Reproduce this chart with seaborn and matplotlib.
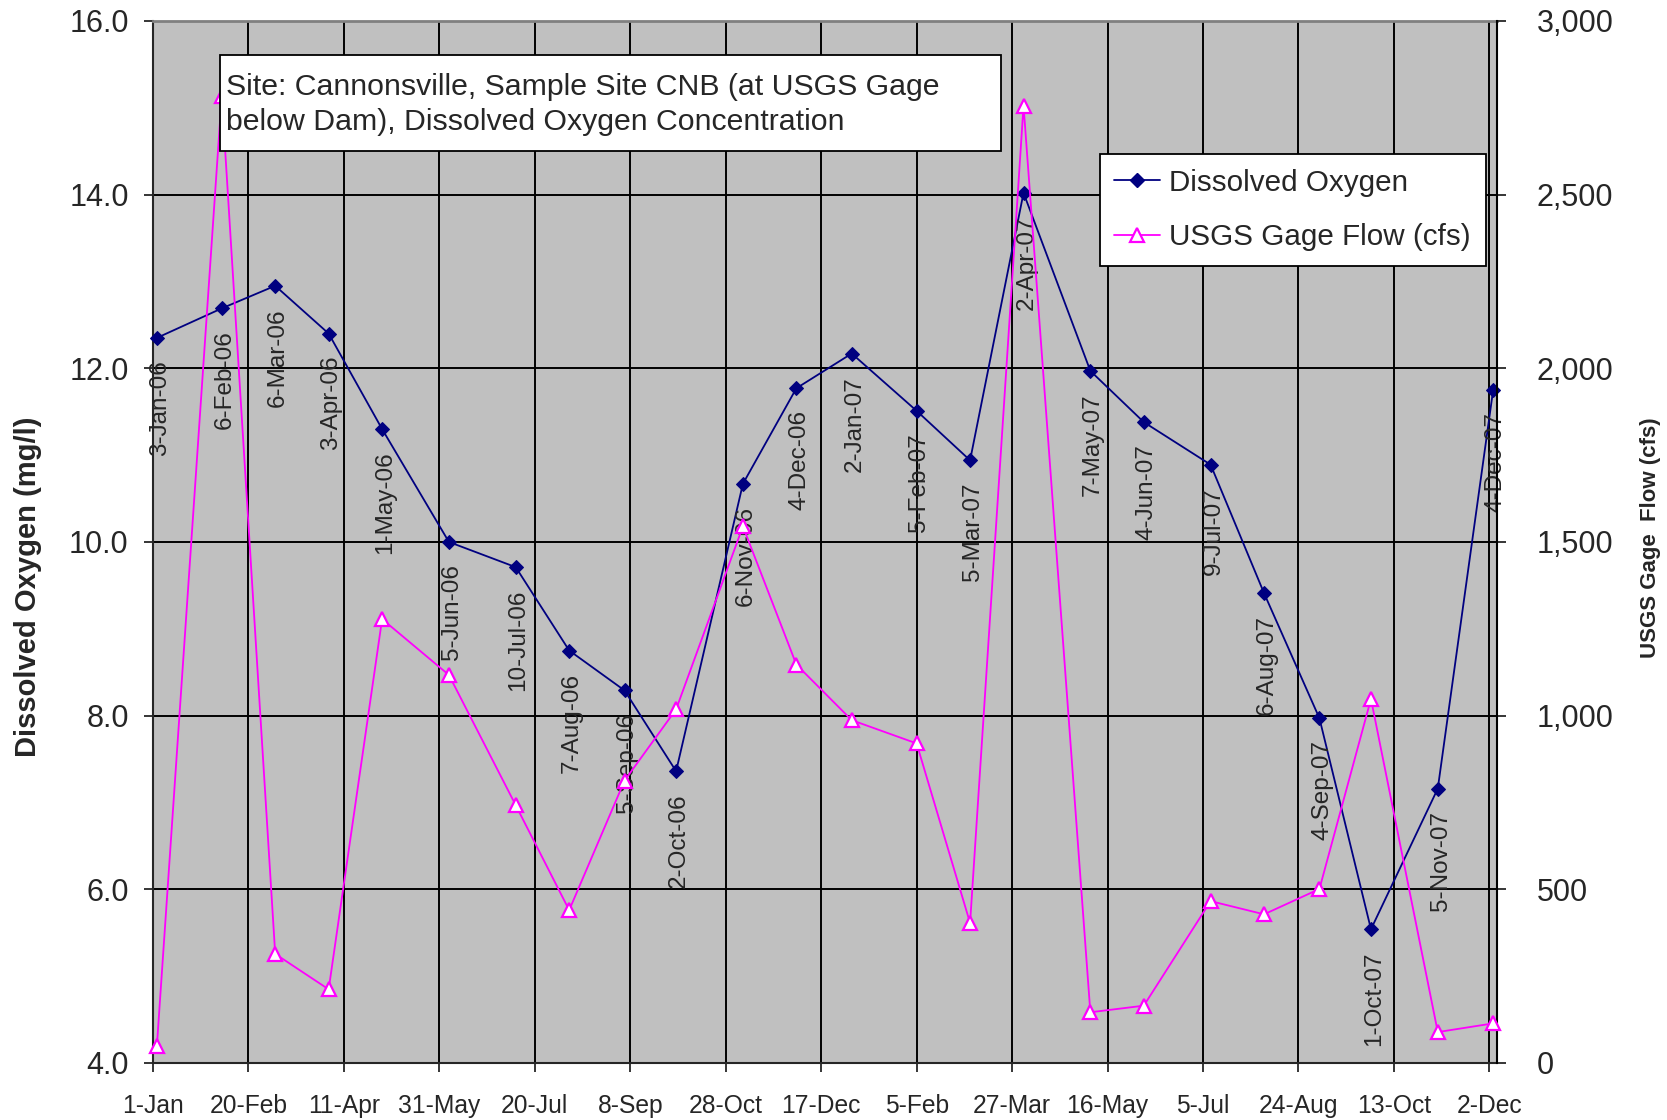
import matplotlib
matplotlib.use("Agg")
import matplotlib.pyplot as plt
import matplotlib.dates as mdates
from matplotlib.lines import Line2D
from matplotlib.patches import Rectangle
import pandas as pd
import seaborn as sns

# Monthly samples at site CNB
sample_dates = [
    "2006-01-03", "2006-02-06", "2006-03-06", "2006-04-03", "2006-05-01",
    "2006-06-05", "2006-07-10", "2006-08-07", "2006-09-05", "2006-10-02",
    "2006-11-06", "2006-12-04", "2007-01-02", "2007-02-05", "2007-03-05",
    "2007-04-02", "2007-05-07", "2007-06-04", "2007-07-09", "2007-08-06",
    "2007-09-04", "2007-10-01", "2007-11-05", "2007-12-04",
]
point_labels = [
    "3-Jan-06", "6-Feb-06", "6-Mar-06", "3-Apr-06", "1-May-06",
    "5-Jun-06", "10-Jul-06", "7-Aug-06", "5-Sep-06", "2-Oct-06",
    "6-Nov-06", "4-Dec-06", "2-Jan-07", "5-Feb-07", "5-Mar-07",
    "2-Apr-07", "7-May-07", "4-Jun-07", "9-Jul-07", "6-Aug-07",
    "4-Sep-07", "1-Oct-07", "5-Nov-07", "4-Dec-07",
]
do_mg_l = [
    12.35, 12.69, 12.95, 12.40, 11.30, 10.00, 9.71, 8.75, 8.29, 7.36,
    10.67, 11.77, 12.17, 11.51, 10.94, 14.02, 11.97, 11.38, 10.89, 9.41,
    7.97, 5.54, 7.16, 11.75,
]
flow_cfs = [
    48, 2785, 314, 212, 1278, 1117, 742, 440, 813, 1018,
    1545, 1147, 987, 920, 403, 2756, 146, 165, 466, 428,
    501, 1048, 89, 114,
]

tick_dates = [
    "2006-01-01", "2006-02-20", "2006-04-11", "2006-05-31", "2006-07-20",
    "2006-09-08", "2006-10-28", "2006-12-17", "2007-02-05", "2007-03-27",
    "2007-05-16", "2007-07-05", "2007-08-24", "2007-10-13", "2007-12-02",
]
tick_labels = [
    "1-Jan", "20-Feb", "11-Apr", "31-May", "20-Jul", "8-Sep", "28-Oct",
    "17-Dec", "5-Feb", "27-Mar", "16-May", "5-Jul", "24-Aug", "13-Oct", "2-Dec",
]
do_ticks = [4, 6, 8, 10, 12, 14, 16]
flow_ticks = [0, 500, 1000, 1500, 2000, 2500, 3000]

DO_COLOR = "#000080"
FLOW_COLOR = "#FF00FF"

sns.set_style("ticks")
plt.rcParams["font.family"] = ["Liberation Sans", "DejaVu Sans"]

df = pd.DataFrame({
    "date": pd.to_datetime(sample_dates),
    "do": do_mg_l,
    "flow": flow_cfs,
})

fig = plt.figure(figsize=(16.67, 11.2), dpi=100)
ax = fig.add_axes([0.0918, 0.0509, 0.8062, 0.9304])
ax2 = ax.twinx()

sns.lineplot(data=df, x="date", y="do", ax=ax, color=DO_COLOR, marker="D",
             markersize=7, markeredgecolor=DO_COLOR, linewidth=1.3,
             legend=False, zorder=3, clip_on=False)
sns.lineplot(data=df, x="date", y="flow", ax=ax2, color=FLOW_COLOR, marker="^",
             markersize=10, markerfacecolor="white", markeredgecolor=FLOW_COLOR,
             markeredgewidth=1.6, linewidth=1.3, legend=False, zorder=3,
             clip_on=False)

x0 = mdates.date2num(pd.Timestamp("2006-01-01"))
ax.set_xlim(x0, x0 + 704.0)
ax.set_ylim(4, 16)
ax2.set_ylim(0, 3000)

ax.set_facecolor("#C0C0C0")
ax.set_xticks(mdates.date2num(pd.to_datetime(tick_dates)))
ax.set_xticklabels(tick_labels, fontsize=17.7)
ax.set_yticks(do_ticks)
ax.set_yticklabels([f"{v:.1f}" for v in do_ticks], fontsize=22)
ax2.set_yticks(flow_ticks)
ax2.set_yticklabels([f"{v:,}" for v in flow_ticks], fontsize=22)
ax.set_xlabel("")
ax.set_ylabel("")
ax2.set_ylabel("")

ax.tick_params(axis="x", direction="out", length=6.5, width=1.3, pad=15.5)
ax.tick_params(axis="y", direction="out", length=6.5, width=1.3, pad=11)
ax2.tick_params(axis="y", direction="out", length=6.5, width=1.3, pad=22)

ax.grid(True, color="black", linewidth=1.4)

ax.spines["top"].set_color("#808080")
ax.spines["top"].set_linewidth(2)
ax.spines["right"].set_visible(False)
ax.spines["left"].set_linewidth(1.5)
ax.spines["bottom"].set_linewidth(1.5)
for side in ("left", "top", "bottom"):
    ax2.spines[side].set_visible(False)
ax2.spines["right"].set_color("black")
ax2.spines["right"].set_linewidth(1.5)

# Sample date labels under each oxygen reading
for d, v, lbl in zip(df["date"], do_mg_l, point_labels):
    ax.annotate(lbl, xy=(mdates.date2num(d), v), xytext=(2, -16),
                textcoords="offset points", rotation=90, ha="center",
                va="top", fontsize=17.5, zorder=4)

# Site description box
ax2.add_patch(Rectangle((0.050, 0.8755), 0.5813, 0.0919, transform=ax2.transAxes,
                        facecolor="white", edgecolor="black", linewidth=1.3,
                        zorder=5))
ax2.text(0.0543, 0.929, "Site: Cannonsville, Sample Site CNB (at USGS Gage",
         transform=ax2.transAxes, fontsize=21.8, va="baseline", ha="left", zorder=6)
ax2.text(0.0543, 0.8954, "below Dam), Dissolved Oxygen Concentration",
         transform=ax2.transAxes, fontsize=21.8, va="baseline", ha="left", zorder=6)

handles = [
    Line2D([], [], color=DO_COLOR, marker="D", markersize=7, linewidth=1.3),
    Line2D([], [], color=FLOW_COLOR, marker="^", markersize=10,
           markerfacecolor="white", markeredgecolor=FLOW_COLOR,
           markeredgewidth=1.6, linewidth=1.3),
]
leg = ax2.legend(handles, ["Dissolved Oxygen", "USGS Gage Flow (cfs)"],
                 loc="upper right", bbox_to_anchor=(0.9915, 0.8724),
                 frameon=True, fancybox=False, edgecolor="black", framealpha=1,
                 fontsize=21.3, handlelength=1.55, handletextpad=0.3,
                 labelspacing=0.9, borderpad=0.5, borderaxespad=0)
leg.get_frame().set_linewidth(1.3)
leg.set_zorder(10)

fig.text(0.0165, 0.476, "Dissolved Oxygen (mg/l)", rotation=90, ha="center",
         va="center", fontsize=21, fontweight="bold")
fig.text(0.990, 0.52, "USGS Gage  Flow (cfs)", rotation=90, ha="center",
         va="center", fontsize=16, fontweight="bold")

fig.savefig("out.png", dpi=100)
